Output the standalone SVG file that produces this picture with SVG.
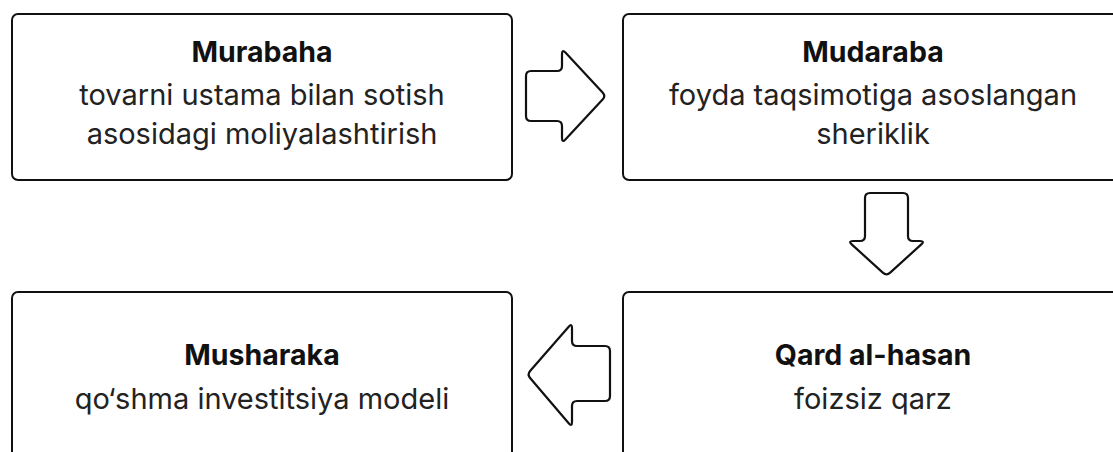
<svg xmlns="http://www.w3.org/2000/svg" width="1113" height="452" viewBox="0 0 1113 452">
<style>
.box{fill:#fff;stroke:#111;stroke-width:2}
.arr{fill:#fff;stroke:#111;stroke-width:2.2;stroke-linejoin:round}
.t{font-family:Inter,"Liberation Sans",sans-serif;font-size:28.5px;font-weight:700;fill:#111;text-anchor:middle}
.b{font-family:Inter,"Liberation Sans",sans-serif;font-size:29px;font-weight:400;fill:#222;text-anchor:middle}
</style>
<rect width="1113" height="452" fill="#fff"/>
<g id="murabaha">
<rect class="box" x="12" y="14" width="500" height="166" rx="6"/>
<text class="t" x="262" y="62">Murabaha</text>
<text class="b" x="262" y="105">tovarni ustama bilan sotish</text>
<text class="b" x="262" y="144">asosidagi moliyalashtirish</text>
</g>
<g id="mudaraba">
<rect class="box" x="623" y="14" width="500" height="166" rx="6"/>
<text class="t" x="873" y="62">Mudaraba</text>
<text class="b" x="873" y="105">foyda taqsimotiga asoslangan</text>
<text class="b" x="873" y="144">sheriklik</text>
</g>
<g id="musharaka">
<rect class="box" x="12" y="292" width="500" height="166" rx="6"/>
<text class="t" x="262" y="365">Musharaka</text>
<text class="b" x="262" y="409">qo‘shma investitsiya modeli</text>
</g>
<g id="qard">
<rect class="box" x="623" y="292" width="500" height="166" rx="6"/>
<text class="t" x="873" y="365">Qard al-hasan</text>
<text class="b" x="873" y="409">foizsiz qarz</text>
</g>
<g id="connectors">
<path class="arr" d="M526,76 Q526,71 531,71 L557,71 Q562,71 562,66 L562,54 Q562,49 565.4,52.6 L602.6,92.4 Q606,96 602.6,99.6 L565.4,139.4 Q562,143 562,138 L562,126 Q562,121 557,121 L531,121 Q526,121 526,116 Z"/>
<path class="arr" d="M865,198 Q865,193 870,193 L903,193 Q908,193 908,198 L908,236 Q908,241 913,241 L920,241 Q925,241 921.3,244.4 L890.2,272.6 Q886.5,276 882.8,272.6 L851.7,244.4 Q848,241 853,241 L860,241 Q865,241 865,236 Z"/>
<path class="arr" d="M530.3,370.7 L568.7,326.8 Q572,323 572,328 L572,341 Q572,346 577,346 L605,346 Q610,346 610,351 L610,396 Q610,401 605,401 L577,401 Q572,401 572,406 L572,422 Q572,427 568.7,423.2 L530.3,378.3 Q527,374.5 530.3,370.7 Z"/>
</g>
</svg>
